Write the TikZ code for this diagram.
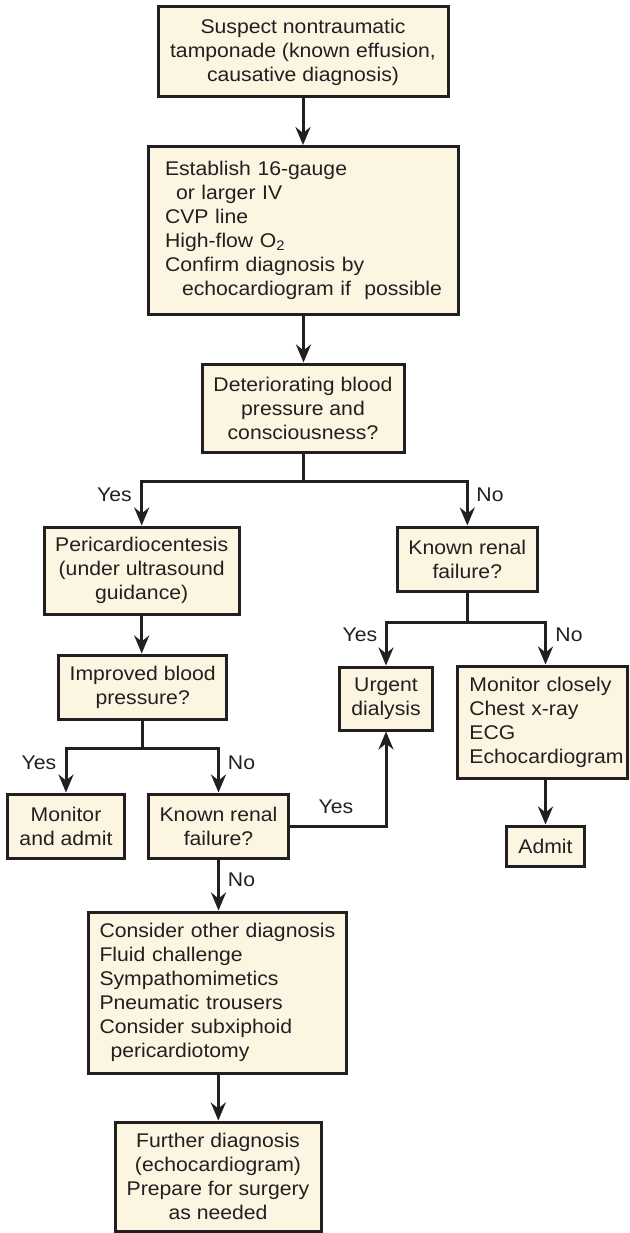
\documentclass[tikz,border=0pt]{standalone}
\usepackage{fontspec}
\setmainfont{Liberation Sans}[FakeStretch=1.07]
\usetikzlibrary{arrows.meta}
\definecolor{boxfill}{HTML}{FCF5E2}
\definecolor{ink}{HTML}{231F20}
\begin{document}
\begin{tikzpicture}[x=1pt,y=-1pt,
  every node/.style={font=\fontsize{19.8}{24}\selectfont, text=ink},
  box/.style={draw=ink, line width=3pt, fill=boxfill, inner sep=0pt, align=center},
  lbox/.style={box, align=left},
  conn/.style={draw=ink, line width=3pt},
  arr/.style={conn, -{Stealth[length=18pt,width=15pt,inset=6pt]}},
  lbl/.style={inner sep=0pt}
]
\useasboundingbox (0,0) rectangle (629,1233);

\node[box, minimum width=290pt, minimum height=90pt] (s1) at (303,52)
  {Suspect nontraumatic\\tamponade (known effusion,\\causative diagnosis)};
\node[lbox, text width=277pt, inner xsep=16.5pt, minimum height=167.5pt] (s2) at (303.5,230.3)
  {Establish 16-gauge\\\hspace*{11pt}or larger IV\\CVP line\\High-flow O\textsubscript{2}\\Confirm diagnosis by\\\hspace*{17pt}\mbox{echocardiogram if\ \ possible}};
\node[box, minimum width=202pt, minimum height=88pt] (s3) at (303,408)
  {Deteriorating blood\\pressure and\\consciousness?};
\node[box, minimum width=195pt, minimum height=87pt] (peri) at (141.7,570.5)
  {Pericardiocentesis\\(under ultrasound\\guidance)};
\node[box, minimum width=140pt, minimum height=64pt] (kr1) at (467.3,559)
  {Known renal\\failure?};
\node[box, minimum width=168pt, minimum height=64pt] (imp) at (142.7,687)
  {Improved blood\\pressure?};
\node[box, minimum width=117.4pt, minimum height=64pt] (ma) at (66,826)
  {Monitor\\and admit};
\node[box, minimum width=139.6pt, minimum height=64pt] (kr2) at (218.5,826)
  {Known renal\\failure?};
\node[box, minimum width=93.4pt, minimum height=63pt] (urg) at (386,698.5)
  {Urgent\\dialysis};
\node[lbox, text width=147pt, inner xsep=11.5pt, minimum height=112pt] (mc) at (542.9,722)
  {Monitor closely\\Chest x-ray\\ECG\\Echocardiogram};
\node[box, minimum width=78.3pt, minimum height=40pt] (adm) at (545.5,846)
  {Admit};
\node[lbox, text width=236pt, inner xsep=11.2pt, minimum height=161pt] (cons) at (217.5,992.5)
  {Consider other diagnosis\\Fluid challenge\\Sympathomimetics\\Pneumatic trousers\\Consider subxiphoid\\\hspace*{11pt}pericardiotomy};
\node[box, minimum width=206pt, minimum height=109pt] (fur) at (218,1176.5)
  {Further diagnosis\\(echocardiogram)\\Prepare for surgery\\as needed};

\coordinate (b1) at (303,481);
\coordinate (b2) at (142.7,748);
\coordinate (b3) at (467.3,622);

\draw[arr] (s1.south) -- (s1.south |- s2.north);
\draw[arr] (s2.south) -- (s2.south |- s3.north);
\draw[arr] (s3.south) -- (b1) -| (peri.north);
\draw[arr] (b1) -| (kr1.north);
\draw[arr] (peri.south) -- (peri.south |- imp.north);
\draw[arr] (imp.south) -- (b2) -| (ma.north);
\draw[arr] (b2) -| (kr2.north);
\draw[arr] (kr1.south) -- (b3) -| (urg.north);
\draw[arr] (b3) -| ([xshift=2.6pt]mc.north);
\draw[arr] ([xshift=2.6pt]mc.south) -- ([xshift=2.6pt]mc.south |- adm.north);
\draw[arr] (kr2.east) -| (urg.south);
\draw[arr] (kr2.south) -- (kr2.south |- cons.north);
\draw[arr] ([xshift=0.8pt]cons.south) -- ([xshift=0.8pt]cons.south |- fur.north);

\node[lbl] (y1) at (114.5,495) {Yes};
\node[lbl] (n1) at (490,495) {No};
\node[lbl] (y2) at (39,763) {Yes};
\node[lbl] (n2) at (241.5,763) {No};
\node[lbl] (y3) at (360,635) {Yes};
\node[lbl] (n3) at (569,635) {No};
\node[lbl] (y4) at (336,807) {Yes};
\node[lbl] (n4) at (241.5,880) {No};
\end{tikzpicture}
\end{document}
